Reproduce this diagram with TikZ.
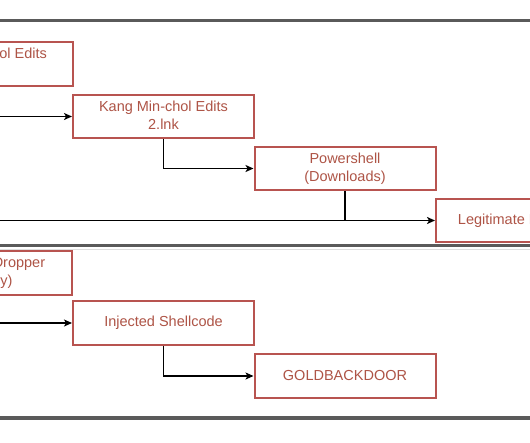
\documentclass[tikz,border=0pt]{standalone}
\usepackage{fontspec}
\setmainfont{Liberation Sans}
\usetikzlibrary{arrows.meta}
\definecolor{boxred}{HTML}{B85450}
\definecolor{txtred}{HTML}{AE5446}
\definecolor{sepgray}{HTML}{5A5A5A}
\definecolor{lightgray}{HTML}{DDDDDD}
\begin{document}
\begin{tikzpicture}[x=1pt,y=-1pt,
  box/.style={draw=boxred, line width=2pt, text=txtred,
    font=\fontsize{14.5}{18}\selectfont, minimum width=181pt,
    minimum height=43.5pt, align=center, inner sep=0pt},
  conn/.style={line width=1.7pt, draw=black,
    -{Stealth[length=8pt,width=7pt,inset=2pt]}},
  plain/.style={line width=1.7pt, draw=black},
  sep/.style={draw=sepgray, line width=3.8pt},
  thinsep/.style={draw=lightgray, line width=1pt}]
\useasboundingbox (0,0) rectangle (530,442);
\clip (0,0) rectangle (530,442);
\fill[white] (0,0) rectangle (530,442);
% panel separators
\draw[sep] (-10,20.5) -- (540,20.5);
\draw[sep] (-10,245.5) -- (540,245.5);
\draw[thinsep] (-10,249.5) -- (540,249.5);
\draw[sep] (-10,418) -- (540,418);
% top panel
\node[box] (b1) at (-17.5,64) {\strut Kang Min-chol Edits\\ \strut};
\node[box] (b2) at (163.5,116.5) {\strut Kang Min-chol Edits\\ \strut 2.lnk};
\node[box] (b3) at (345,168.5) {\strut Powershell\\ \strut (Downloads)};
\node[box] (b4) at (526.5,220.5) {Legitimate Document};
% bottom panel
\node[box] (b5) at (-18.5,273) {\strut Powershell Dropper\\ \strut (Memory)};
\node[box] (b6) at (163.5,323) {Injected Shellcode};
\node[box] (b7) at (345,376) {GOLDBACKDOOR};
% connectors
\draw[conn] (b1.south) |- (b2.west);
\draw[conn] (b2.south) |- (b3.west);
\draw[conn] (b1.south) |- (b4.west);
\draw[plain] (b3.south) -- (b3.south |- b4.west);
\draw[conn] (b5.south) |- (b6.west);
\draw[conn] (b6.south) |- (b7.west);
\end{tikzpicture}
\end{document}
